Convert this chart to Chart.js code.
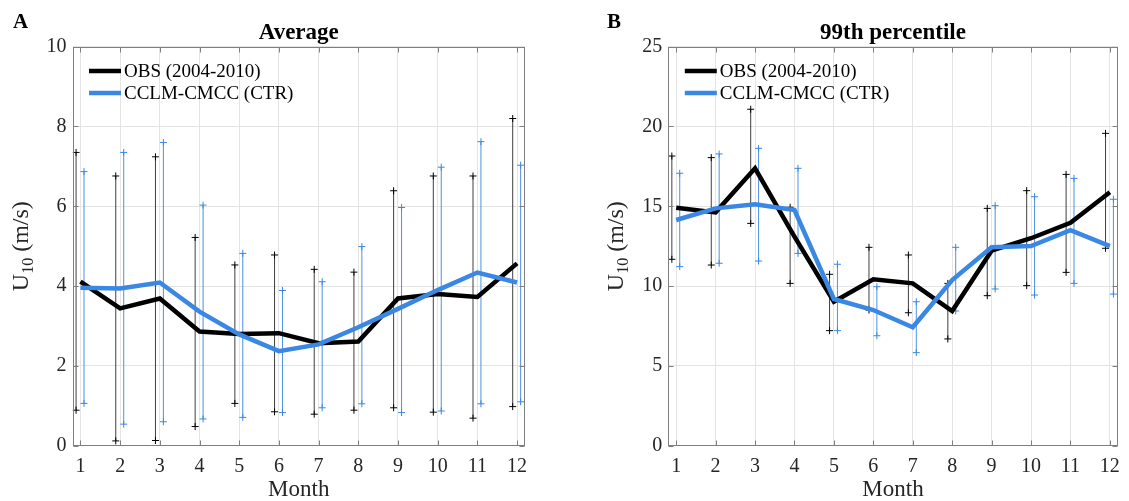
<!DOCTYPE html>
<html>
<head>
<meta charset="utf-8">
<script src="https://cdn.jsdelivr.net/npm/chart.js@4.4.1/dist/chart.umd.min.js"></script>
<style>
  body { margin: 0; background: #fff; }
  #wrap { position: relative; width: 1129px; height: 501px; overflow: hidden; }
  canvas { position: absolute; top: 0; }
</style>
</head>
<body>
<div id="wrap">
  <canvas id="avgchart" width="564" height="501" style="left:0"></canvas>
  <canvas id="pctchart" width="565" height="501" style="left:564px"></canvas>
</div>
<script>
 "use strict";

  /*----------------------------------------*/
 /*  data
 /*----------------------------------------*/
 var months = [1, 2, 3, 4, 5, 6, 7, 8, 9, 10, 11, 12];
 var seriesNames = ['OBS (2004-2010)', 'CCLM-CMCC (CTR)'];

 // panel A : average
 var avgObs   = [4.11, 3.44, 3.69, 2.86, 2.80, 2.82, 2.57, 2.61, 3.69, 3.80, 3.73, 4.57];
 var avgObsHi = [7.35, 6.76, 7.24, 5.22, 4.53, 4.78, 4.42, 4.35, 6.39, 6.76, 6.76, 8.20];
 var avgObsLo = [0.89, 0.12, 0.13, 0.48, 1.06, 0.85, 0.79, 0.89, 0.95, 0.84, 0.69, 0.98];
 var avgMod   = [3.96, 3.94, 4.09, 3.36, 2.79, 2.37, 2.54, 2.97, 3.43, 3.90, 4.34, 4.09];
 var avgModHi = [6.87, 7.35, 7.60, 6.03, 4.82, 3.89, 4.11, 4.99, 5.97, 6.98, 7.62, 7.03];
 var avgModLo = [1.06, 0.54, 0.60, 0.67, 0.71, 0.83, 0.95, 1.05, 0.83, 0.87, 1.05, 1.10];
 var avgTicks = [0, 2, 4, 6, 8, 10];

 // panel B : 99th percentile
 var pctObs   = [14.91, 14.62, 17.38, 13.10, 9.02, 10.43, 10.17, 8.44, 12.22, 13.00, 13.97, 15.88];
 var pctObsHi = [18.15, 18.05, 21.08, 14.94, 10.74, 12.43, 11.95, 10.17, 14.87, 15.98, 17.00, 19.57];
 var pctObsLo = [11.68, 11.32, 13.93, 10.17, 7.21, 8.50, 8.33, 6.69, 9.40, 10.03, 10.86, 12.37];
 var pctMod   = [14.14, 14.87, 15.12, 14.77, 9.19, 8.50, 7.42, 10.38, 12.43, 12.51, 13.50, 12.51];
 var pctModHi = [17.07, 18.28, 18.63, 17.38, 11.37, 9.96, 9.02, 12.43, 15.04, 15.60, 16.75, 15.44];
 var pctModLo = [11.22, 11.43, 11.57, 12.05, 7.21, 6.89, 5.83, 8.44, 9.82, 9.44, 10.17, 9.50];
 var pctTicks = [0, 5, 10, 15, 20, 25];

 var SERIF = "'Liberation Serif', 'DejaVu Serif', serif";
 var OBS_COLOR = '#000000';
 var MOD_COLOR = '#3a87e4';
 var OBS_BAR = 'rgba(30,30,30,0.85)';
 var MOD_BAR = '#4b92e6';

 function linePoints(vals) {
   return months.map(function (m, i) { return { x: m, y: vals[i] }; });
 }
 // whisker = two points + a gap so the line breaks between months
 function whiskerPoints(lo, hi, shift) {
   var pts = [];
   months.forEach(function (m, i) {
     pts.push({ x: m + shift, y: lo[i] });
     pts.push({ x: m + shift, y: hi[i] });
     pts.push({ x: m + shift, y: null });
   });
   return pts;
 }

  /*----------------------------------------*/
 /*  decorations: box, inner ticks, titles, legend
 /*----------------------------------------*/
 var decoPlugin = {
   id: 'deco',
   afterDraw: function (chart, args, o) {
     var ctx = chart.ctx, a = chart.chartArea;
     var xs = chart.scales.x, ys = chart.scales.y;
     ctx.save();

     ctx.strokeStyle = '#7f7f7f';
     ctx.lineWidth = 1;
     var L = Math.round(a.left) + 0.5, R = Math.round(a.right) - 0.5;
     var T = Math.round(a.top) + 0.5, B = Math.round(a.bottom) - 0.5;
     ctx.strokeRect(L, T, R - L, B - T);
     ctx.beginPath();
     months.forEach(function (m) {
       var px = Math.round(xs.getPixelForValue(m)) + 0.5;
       ctx.moveTo(px, B); ctx.lineTo(px, B - 5);
       ctx.moveTo(px, T); ctx.lineTo(px, T + 5);
     });
     ys.ticks.forEach(function (t) {
       var py = Math.round(ys.getPixelForValue(t.value)) + 0.5;
       ctx.moveTo(L, py); ctx.lineTo(L + 5, py);
       ctx.moveTo(R, py); ctx.lineTo(R - 5, py);
     });
     ctx.stroke();

     // title + panel letter
     ctx.fillStyle = '#000';
     ctx.font = 'bold 23px ' + SERIF;
     ctx.textAlign = 'center';
     ctx.textBaseline = 'middle';
     ctx.fillText(o.title, (a.left + a.right) / 2, 33);
     ctx.font = 'bold 21px ' + SERIF;
     ctx.textAlign = 'left';
     ctx.textBaseline = 'alphabetic';
     ctx.fillText(o.letter, o.letterX, 28);

     // y title  U_10 (m/s)
     ctx.save();
     ctx.translate(a.left - 45, (a.top + a.bottom) / 2);
     ctx.rotate(-Math.PI / 2);
     ctx.fillStyle = '#262626';
     ctx.font = '24px ' + SERIF;
     var wU = ctx.measureText('U').width;
     var wR = ctx.measureText(' (m/s)').width;
     ctx.font = '16px ' + SERIF;
     var wS = ctx.measureText('10').width;
     var x0 = -(wU + wS + wR) / 2;
     ctx.textAlign = 'left';
     ctx.font = '24px ' + SERIF;
     ctx.fillText('U', x0, 0);
     ctx.font = '16px ' + SERIF;
     ctx.fillText('10', x0 + wU, 5);
     ctx.font = '24px ' + SERIF;
     ctx.fillText(' (m/s)', x0 + wU + wS, 0);
     ctx.restore();

     // legend
     var colors = [OBS_COLOR, MOD_COLOR];
     ctx.font = '19px ' + SERIF;
     ctx.textBaseline = 'middle';
     seriesNames.forEach(function (name, i) {
       var y = 71 + i * 22;
       ctx.strokeStyle = colors[i];
       ctx.lineWidth = 4.5;
       ctx.beginPath();
       ctx.moveTo(a.left + 16.5, y);
       ctx.lineTo(a.left + 48.5, y);
       ctx.stroke();
       ctx.fillStyle = '#000';
       ctx.fillText(name, a.left + 51.5, y + 1);
     });
     ctx.restore();
   }
 };

 function makeChart(id, d, cfg) {
   var ctx = document.getElementById(id);
   return new Chart(ctx, {
     type: 'scatter',
     data: {
       datasets: [
         { label: seriesNames[1], data: linePoints(d.mod), showLine: true,
           borderColor: MOD_COLOR, borderWidth: 4.5, pointRadius: 0 },
         { label: seriesNames[0], data: linePoints(d.obs), showLine: true,
           borderColor: OBS_COLOR, borderWidth: 4.5, pointRadius: 0 },
         { label: 'obs range', data: whiskerPoints(d.obsLo, d.obsHi, -0.11), showLine: true, spanGaps: false,
           borderColor: OBS_BAR, borderWidth: 1, pointStyle: 'cross', pointRadius: 3.5,
           pointBorderColor: '#000', pointBorderWidth: 1 },
         { label: 'model range', data: whiskerPoints(d.modLo, d.modHi, 0.09), showLine: true, spanGaps: false,
           borderColor: MOD_BAR, borderWidth: 1, pointStyle: 'cross', pointRadius: 3.5,
           pointBorderColor: MOD_COLOR, pointBorderWidth: 1 }
       ]
     },
     options: {
       responsive: false,
       animation: false,
       events: [],
       layout: { padding: { left: 0, right: cfg.padRight, top: 46.7, bottom: 0 } },
       scales: {
         x: {
           type: 'linear', min: 0.8, max: 12.2,
           afterBuildTicks: function (s) { s.ticks = months.map(function (v) { return { value: v }; }); },
           afterFit: function (s) { s.height = 55.3; },
           grid: { color: '#e4e4e4', drawTicks: false },
           border: { display: false },
           ticks: { padding: 9, color: '#262626', font: { family: SERIF, size: 20 } },
           title: { display: true, text: 'Month', color: '#262626', padding: { top: 0, bottom: -3 },
                    font: { family: SERIF, size: 23 } }
         },
         y: {
           min: d.ticks[0], max: d.ticks[d.ticks.length - 1],
           afterBuildTicks: function (s) { s.ticks = d.ticks.map(function (v) { return { value: v }; }); },
           afterFit: function (s) { s.width = cfg.axisLeft; },
           grid: { color: '#e4e4e4', drawTicks: false },
           border: { display: false },
           ticks: { padding: 6, color: '#262626', font: { family: SERIF, size: 20 } }
         }
       },
       plugins: {
         legend: { display: false },
         tooltip: { enabled: false },
         deco: { title: cfg.title, letter: cfg.letter, letterX: cfg.letterX }
       }
     },
     plugins: [decoPlugin]
   });
 }

 var avgchart = makeChart('avgchart',
   { obs: avgObs, obsHi: avgObsHi, obsLo: avgObsLo, mod: avgMod, modHi: avgModHi, modLo: avgModLo, ticks: avgTicks },
   { title: 'Average', letter: 'A', letterX: 13, axisLeft: 72.5, padRight: 39 });

 var pctchart = makeChart('pctchart',
   { obs: pctObs, obsHi: pctObsHi, obsLo: pctObsLo, mod: pctMod, modHi: pctModHi, modLo: pctModLo, ticks: pctTicks },
   { title: '99th percentile', letter: 'B', letterX: 43, axisLeft: 104.3, padRight: 7.3 });
</script>
</body>
</html>
